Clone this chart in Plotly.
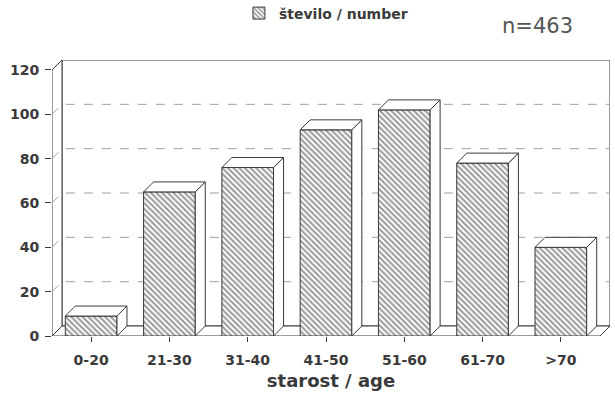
import plotly.graph_objects as go

# ---- data ----
categories = ["0-20", "21-30", "31-40", "41-50", "51-60", "61-70", ">70"]
counts = [9, 65, 76, 93, 102, 78, 40]
y_ticks = [0, 20, 40, 60, 80, 100, 120]
series_name = "število / number"
n_label = "n=463"
x_title = "starost / age"

# ---- geometry (pixels) ----
W, H = 615, 399
L_PX = 52          # front y-axis position
B_PX = 336         # front zero line
PPX = 78.3         # pixels per category
PPY = 2.22         # pixels per count unit
DEPTH = 10         # 3D depth in pixels
BAR_W = 0.66

dx = DEPTH / PPX
dy = DEPTH / PPY
pos = list(range(len(categories)))
x0 = -0.5
x_front_end = len(categories) - 0.5
x1 = x_front_end + dx
ytop = max(y_ticks)
y1 = ytop + dy

mar_l = L_PX
mar_r = W - (L_PX + (x1 - x0) * PPX)
mar_b = H - B_PX
mar_t = B_PX - y1 * PPY
plot_h = H - mar_t - mar_b
plot_w = W - mar_l - mar_r

EDGE = "#3a3a3a"
GRID = "#a0a0a0"
TXT = "#3a3a3a"
FONT = "DejaVu Sans"

fig = go.Figure()

# front faces (hatched)
fig.add_trace(go.Bar(
    x=pos, y=counts, width=BAR_W, name=series_name,
    marker=dict(color="white", line=dict(color=EDGE, width=1),
                pattern=dict(shape="\\", fgcolor="#333333", bgcolor="white",
                             size=4, solidity=0.5)),
    showlegend=True, hoverinfo="skip"))

# top faces and side faces computed from data
tx, ty, sx, sy = [], [], [], []
for p, v in zip(pos, counts):
    a, b = p - BAR_W / 2, p + BAR_W / 2
    tx += [a, b, b + dx, a + dx, a, None]
    ty += [v, v, v + dy, v + dy, v, None]
    sx += [b, b + dx, b + dx, b, b, None]
    sy += [0, dy, v + dy, v, 0, None]

for xs, ys in ((sx, sy), (tx, ty)):
    fig.add_trace(go.Scatter(
        x=xs, y=ys, mode="lines", fill="toself", fillcolor="white",
        line=dict(color=EDGE, width=1), showlegend=False, hoverinfo="skip"))

shapes = []
# back wall
shapes.append(dict(type="path", layer="below",
                   path=f"M {x0+dx},{dy} L {x1},{dy} L {x1},{y1} L {x0+dx},{y1} Z",
                   line=dict(color=EDGE, width=1), fillcolor="white"))
# floor
shapes.append(dict(type="path", layer="below",
                   path=f"M {x0},0 L {x_front_end},0 L {x1},{dy} L {x0+dx},{dy} Z",
                   line=dict(color=EDGE, width=1), fillcolor="white"))
# left wall
shapes.append(dict(type="path", layer="below",
                   path=f"M {x0},0 L {x0},{ytop} L {x0+dx},{y1} L {x0+dx},{dy} Z",
                   line=dict(color=EDGE, width=1), fillcolor="white"))
# gridlines
for v in y_ticks[1:-1]:
    shapes.append(dict(type="path", layer="below",
                       path=f"M {x0},{v} L {x0+dx},{v+dy} L {x1},{v+dy}",
                       line=dict(color=GRID, width=1, dash="dash")))

fig.update_layout(
    width=W, height=H,
    margin=dict(l=mar_l, r=mar_r, t=mar_t, b=mar_b, pad=0, autoexpand=False),
    paper_bgcolor="white", plot_bgcolor="white",
    shapes=shapes,
    font=dict(family=FONT, color=TXT, size=14, weight="bold"),
    xaxis=dict(range=[x0, x1], tickmode="array", tickvals=pos, ticktext=categories,
               showgrid=False, zeroline=False, showline=False, automargin=False,
               ticks="outside", ticklen=5, tickcolor=EDGE, ticklabelstandoff=6,
               tickfont=dict(size=14),
               title=dict(text=x_title, font=dict(size=18), standoff=7)),
    yaxis=dict(range=[0, y1], tickmode="array", tickvals=y_ticks,
               showgrid=False, zeroline=False, showline=False, automargin=False,
               ticks="outside", ticklen=6, tickcolor=EDGE, ticklabelstandoff=3,
               tickfont=dict(size=14)),
    legend=dict(orientation="h", x=(239 - mar_l) / plot_w, xanchor="left",
                y=(B_PX + 3) / plot_h, yanchor="top",
                font=dict(size=14), bgcolor="rgba(0,0,0,0)"),
    annotations=[dict(text=n_label, xref="paper", yref="paper",
                      x=(538 - mar_l) / plot_w, y=(B_PX - 26) / plot_h,
                      xanchor="center", yanchor="middle", showarrow=False,
                      font=dict(size=21, color="#555", weight="normal"))],
)

fig.write_html("out.html", config={"displayModeBar": False},
               post_script="document.body.style.margin='0';")
